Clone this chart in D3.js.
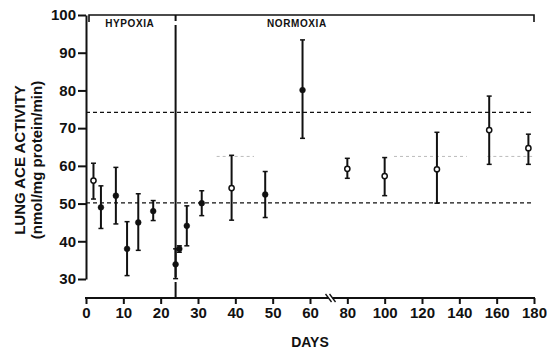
<!DOCTYPE html>
<html lang="en">
<head>
  <meta charset='utf-8'>
  <title>Lung ACE activity</title>
  <style>
    body { margin: 0; background: #fff; }
    svg { display: block; background-color: #fff; }
    text { font-family: "Liberation Sans", Arial, sans-serif; font-weight: bold; fill: #111; }
  </style>
</head>
<body>
  <div id="chart"></div>

<script src="https://cdn.jsdelivr.net/npm/d3@7/dist/d3.min.js"></script>
<script>

  ////////////////////////////////////////////////// DATA

  var days  = [2, 4, 8, 11, 14, 18, 24, 25, 27, 31, 39, 48, 58, 80, 100, 128, 156, 177];
  var means = [56.1, 49.0, 52.1, 38.0, 45.0, 48.0, 33.9, 38.0, 44.1, 50.1, 54.1, 52.4, 80.1, 59.2, 57.3, 59.1, 69.5, 64.7];
  var upper = [60.7, 54.7, 59.6, 45.2, 52.6, 50.8, 38.0, 38.8, 49.4, 53.4, 62.8, 58.5, 93.4, 62.0, 62.2, 68.9, 78.5, 68.4];
  var lower = [51.2, 43.4, 44.6, 30.9, 37.6, 45.5, 30.1, 37.1, 38.8, 46.8, 45.6, 46.3, 67.3, 56.7, 52.1, 50.1, 60.4, 60.4];
  var openMarker = [true, false, false, false, false, false, false, false, false, false, true, false, false, true, true, true, true, true];

  var yTicks = [30, 40, 50, 60, 70, 80, 90, 100];
  var xTicks = [0, 10, 20, 30, 40, 50, 60, 80, 100, 120, 140, 160, 180];

  var refLines = [74.2, 50.2];          // dashed control range
  var faintLevel = 62.5;                 // faint dotted line
  var faintSegments = [[35, 45], [105, 144], [155, 179]];

  var switchDay = 24;                    // hypoxia -> normoxia
  var phases = ["HYPOXIA", "NORMOXIA"];

  ////////////////////////////////////////////////// SETUP

  var width = 547, height = 349;

  var svg = d3.select("#chart").append("svg")
    .attr("width", width)
    .attr("height", height);

  // broken time axis : 0-60 stretched, 60-180 compressed
  var x = d3.scaleLinear().domain([0, 60, 180]).range([86, 310, 534]);
  var y = d3.scaleLinear().domain([30, 100]).range([279, 15]);
  var xAxisY = 298;

  // dashed reference lines
  svg.selectAll(".ref")
    .data(refLines).enter()
    .append("line")
    .attr("x1", x(0)).attr("x2", x(180))
    .attr("y1", function(d) { return y(d); })
    .attr("y2", function(d) { return y(d); })
    .attr("stroke", "#111")
    .attr("stroke-width", 1.3)
    .attr("stroke-dasharray", "4,3");

  svg.selectAll(".faint")
    .data(faintSegments).enter()
    .append("line")
    .attr("x1", function(d) { return x(d[0]); })
    .attr("x2", function(d) { return x(d[1]); })
    .attr("y1", y(faintLevel)).attr("y2", y(faintLevel))
    .attr("stroke", "#bbb")
    .attr("stroke-width", 1)
    .attr("stroke-dasharray", "3,3");

  // Y axis
  var yAxis = svg.append("g")
    .attr("transform", "translate(" + x(0) + ",0)")
    .call(d3.axisLeft(y).tickValues(yTicks).tickSize(8).tickSizeOuter(0).tickPadding(2));
  yAxis.select(".domain").attr("stroke-width", 2).attr("stroke", "#111");
  yAxis.selectAll(".tick line").attr("stroke-width", 2).attr("stroke", "#111");
  yAxis.selectAll("text").style("font-size", "15px").attr("fill", "#111");

  // X axis
  var xAxis = svg.append("g")
    .attr("transform", "translate(0," + xAxisY + ")")
    .call(d3.axisBottom(x).tickValues(xTicks).tickSize(6).tickSizeOuter(0).tickPadding(3));
  xAxis.select(".domain").remove();
  xAxis.selectAll(".tick line").attr("stroke-width", 2).attr("stroke", "#111");
  xAxis.selectAll("text").style("font-size", "15px").attr("fill", "#111");

  // axis line with break marks
  var breakDay = 71;
  xAxis.append("line")
    .attr("x1", x(0) - 1).attr("x2", x(breakDay) - 2)
    .attr("stroke", "#111").attr("stroke-width", 2);
  xAxis.append("line")
    .attr("x1", x(breakDay) + 2).attr("x2", x(180) + 1)
    .attr("stroke", "#111").attr("stroke-width", 2);
  [-2, 2].forEach(function(o) {
    xAxis.append("line")
      .attr("x1", x(breakDay) + o - 3).attr("y1", -4)
      .attr("x2", x(breakDay) + o + 3).attr("y2", 4)
      .attr("stroke", "#111").attr("stroke-width", 1.3);
  });

  // top bracket
  var topY = 15;
  svg.append("path")
    .attr("d", "M" + (x(0) + 3) + "," + (topY + 7) + "V" + topY + "H" + x(180) + "V" + (topY + 7))
    .attr("fill", "none").attr("stroke", "#111").attr("stroke-width", 1.6);

  // switch line
  svg.append("line")
    .attr("x1", x(switchDay)).attr("x2", x(switchDay))
    .attr("y1", topY).attr("y2", xAxisY)
    .attr("stroke", "#111").attr("stroke-width", 2)
    .attr("stroke-dasharray", "6,4,252,5,40");

  // phase labels
  svg.selectAll(".phase")
    .data(phases).enter()
    .append("text")
    .attr("x", function(d, i) { return i == 0 ? x(switchDay / 2) - 1 : x(56.5); })
    .attr("y", topY + 12)
    .attr("text-anchor", "middle")
    .style("font-size", "10px")
    .style("letter-spacing", "0.6px")
    .text(function(d) { return d; });

  ////////////////////////////////////////////////// DATA MARKS

  var pts = days.map(function(d, i) {
    return { day: d, mean: means[i], hi: upper[i], lo: lower[i], open: openMarker[i] };
  });

  var g = svg.append("g");

  g.selectAll(".bar")
    .data(pts).enter()
    .append("line")
    .attr("x1", function(d) { return x(d.day); })
    .attr("x2", function(d) { return x(d.day); })
    .attr("y1", function(d) { return y(d.hi); })
    .attr("y2", function(d) { return y(d.lo); })
    .attr("stroke", "#111").attr("stroke-width", 2);

  ["hi", "lo"].forEach(function(k) {
    g.selectAll(".cap-" + k)
      .data(pts).enter()
      .append("line")
      .attr("x1", function(d) { return x(d.day) - 2.5; })
      .attr("x2", function(d) { return x(d.day) + 2.5; })
      .attr("y1", function(d) { return y(d[k]); })
      .attr("y2", function(d) { return y(d[k]); })
      .attr("stroke", "#111").attr("stroke-width", 1.5);
  });

  g.selectAll(".pt")
    .data(pts).enter()
    .append("circle")
    .attr("cx", function(d) { return x(d.day); })
    .attr("cy", function(d) { return y(d.mean); })
    .attr("r", function(d) { return d.open ? 2.6 : 2.9; })
    .attr("fill", function(d) { return d.open ? "#fff" : "#111"; })
    .attr("stroke", "#111")
    .attr("stroke-width", function(d) { return d.open ? 1.5 : 0.5; });

  ////////////////////////////////////////////////// TITLES

  svg.append("text")
    .attr("x", 310).attr("y", 347)
    .attr("text-anchor", "middle")
    .style("font-size", "14px")
    .text("DAYS");

  var yl = svg.append("text")
    .attr("transform", "translate(25,160) rotate(-90)")
    .attr("text-anchor", "middle")
    .style("font-size", "15px");
  yl.append("tspan").attr("x", 0).attr("dy", 0).text("LUNG ACE ACTIVITY");
  yl.append("tspan").attr("x", 0).attr("dy", 17).text("(nmol/mg protein/min)");

</script>
</body>
</html>
